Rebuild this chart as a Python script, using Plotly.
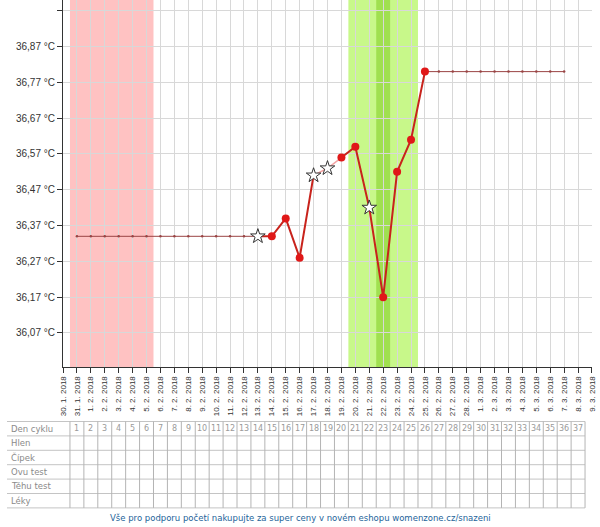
import plotly.graph_objects as go
import pandas as pd

# ---------------- data ----------------
axis_start = "2018-01-30"
axis_end = "2018-03-09"
tick_dates = pd.date_range(axis_start, axis_end, freq="D")
tick_labels = [f"{d.day}. {d.month}. {d.year}" for d in tick_dates]

y_tick_vals = [36.07, 36.17, 36.27, 36.37, 36.47, 36.57, 36.67, 36.77, 36.87, 36.97]
y_tick_text = ["36,07 °C", "36,17 °C", "36,27 °C", "36,37 °C", "36,47 °C",
               "36,57 °C", "36,67 °C", "36,77 °C", "36,87 °C", ""]

meas_dates = ["2018-02-13", "2018-02-14", "2018-02-15", "2018-02-16", "2018-02-17",
              "2018-02-18", "2018-02-19", "2018-02-20", "2018-02-21", "2018-02-22",
              "2018-02-23", "2018-02-24", "2018-02-25"]
meas_temps = [36.34, 36.34, 36.39, 36.28, 36.51, 36.53, 36.56, 36.59, 36.42, 36.17,
              36.52, 36.61, 36.80]
meas_disturbed = [True, False, False, False, True, True, False, False, True, False,
                  False, False, False]

pre_dates = ["2018-01-31", "2018-02-01", "2018-02-02", "2018-02-03", "2018-02-04",
             "2018-02-05", "2018-02-06", "2018-02-07", "2018-02-08", "2018-02-09",
             "2018-02-10", "2018-02-11", "2018-02-12", "2018-02-13"]
pre_temps = [36.34] * len(pre_dates)
post_dates = ["2018-02-25", "2018-02-26", "2018-02-27", "2018-02-28", "2018-03-01",
              "2018-03-02", "2018-03-03", "2018-03-04", "2018-03-05", "2018-03-06",
              "2018-03-07"]
post_temps = [36.80] * len(post_dates)

period_days = ("2018-01-31", "2018-02-05")
fertile_days = ("2018-02-20", "2018-02-24")
ovulation_day = "2018-02-22"

cycle_days = list(range(1, 38))
table_rows = ["Den cyklu", "Hlen", "Čípek", "Ovu test", "Těhu test", "Léky"]
footer_text = "Vše pro podporu početí nakupujte za super ceny v novém eshopu womenzone.cz/snazeni"

# ---------------- helpers ----------------
W, H = 600, 527
ML, MR, MT, MB = 63, 8, 0, 160
PH = H - MT - MB
PW = W - ML - MR
N_DAYS = 38


def half_day(d, sign):
    return (pd.Timestamp(d) + pd.Timedelta(hours=12 * sign)).strftime("%Y-%m-%d %H:%M")


def py(pix):  # pixel y -> paper y
    return (H - MB - pix) / PH


def px(pix):
    return (pix - ML) / PW


fig = go.Figure()

red = "#c8231c"
fig.add_trace(go.Scatter(x=pre_dates, y=pre_temps, mode="lines+markers",
                         line=dict(color="#9a4444", width=1),
                         marker=dict(size=2.5, color="#9a4444"), hoverinfo="skip"))
fig.add_trace(go.Scatter(x=post_dates, y=post_temps, mode="lines+markers",
                         line=dict(color="#9a4444", width=1),
                         marker=dict(size=2.5, color="#9a4444"), hoverinfo="skip"))

# main curve split where segment is lighter
fig.add_trace(go.Scatter(x=meas_dates[0:5], y=meas_temps[0:5], mode="lines",
                         line=dict(color=red, width=2)))
fig.add_trace(go.Scatter(x=meas_dates[4:7], y=meas_temps[4:7], mode="lines",
                         line=dict(color="#f2a4a4", width=1.5)))
fig.add_trace(go.Scatter(x=meas_dates[6:], y=meas_temps[6:], mode="lines",
                         line=dict(color=red, width=2)))

dot_x = [d for d, s in zip(meas_dates, meas_disturbed) if not s]
dot_y = [t for t, s in zip(meas_temps, meas_disturbed) if not s]
star_x = [d for d, s in zip(meas_dates, meas_disturbed) if s]
star_y = [t for t, s in zip(meas_temps, meas_disturbed) if s]
fig.add_trace(go.Scatter(x=dot_x, y=dot_y, mode="markers",
                         marker=dict(size=8, color="#e01818")))
fig.add_trace(go.Scatter(x=star_x, y=star_y, mode="markers",
                         marker=dict(symbol="star", size=11, color="white",
                                     line=dict(color="#333333", width=1))))

shapes = []
shapes.append(dict(type="rect", xref="x", yref="paper", layer="below",
                   x0=half_day(period_days[0], -1), x1=half_day(period_days[1], 1),
                   y0=0, y1=1, fillcolor="#ffc2c2", line=dict(width=0)))
shapes.append(dict(type="rect", xref="x", yref="paper", layer="below",
                   x0=half_day(fertile_days[0], -1), x1=half_day(fertile_days[1], 1),
                   y0=0, y1=1, fillcolor="#c8f88a", line=dict(width=0)))
shapes.append(dict(type="rect", xref="x", yref="paper", layer="below",
                   x0=half_day(ovulation_day, -1), x1=half_day(ovulation_day, 1),
                   y0=0, y1=1, fillcolor="#a0e050", line=dict(width=0)))

# table
row_top = 421.5
row_h = 14.4
n_rows = len(table_rows)
tbl_left = 7
tbl_right = px(ML + PW * 37.5 / N_DAYS)
for r in range(n_rows + 1):
    yy = py(row_top + r * row_h)
    shapes.append(dict(type="line", xref="paper", yref="paper",
                       x0=px(tbl_left), x1=tbl_right, y0=yy, y1=yy,
                       line=dict(color="#c4c4c4", width=1)))
for k in range(len(cycle_days) + 1):
    xx = px(ML + PW * (k + 0.5) / N_DAYS)
    shapes.append(dict(type="line", xref="paper", yref="paper",
                       x0=xx, x1=xx, y0=py(row_top), y1=py(row_top + n_rows * row_h),
                       line=dict(color="#b4b4b4", width=1)))

annotations = []
for r, name in enumerate(table_rows):
    annotations.append(dict(xref="paper", yref="paper", x=px(9),
                            y=py(row_top + (r + 0.5) * row_h), text=name,
                            showarrow=False, xanchor="left", yanchor="middle",
                            font=dict(family="DejaVu Sans", size=8.5, color="#8a8a8a")))
for k, day in enumerate(cycle_days):
    annotations.append(dict(xref="paper", yref="paper", x=px(ML + PW * (k + 1) / N_DAYS),
                            y=py(row_top + 0.5 * row_h), text=str(day),
                            showarrow=False, xanchor="center", yanchor="middle",
                            font=dict(family="DejaVu Sans", size=8, color="#9a9a9a")))
annotations.append(dict(xref="paper", yref="paper", x=px(300), y=py(518),
                        text=footer_text, showarrow=False, xanchor="center",
                        yanchor="middle",
                        font=dict(family="DejaVu Sans", size=8.5, color="#24649a")))

fig.update_layout(
    width=W, height=H,
    margin=dict(l=ML, r=MR, t=MT, b=MB, autoexpand=False),
    paper_bgcolor="white", plot_bgcolor="white",
    showlegend=False,
    shapes=shapes, annotations=annotations,
    font=dict(family="Liberation Sans, Arial", color="#333333"),
)
fig.update_xaxes(
    type="date", range=[axis_start, half_day(axis_end, 0.002)],
    tickvals=list(tick_dates), ticktext=tick_labels, tickangle=-90,
    tickfont=dict(size=8, color="#333333"), automargin=False,
    showgrid=True, gridcolor="#d8d8d8", gridwidth=1,
    showline=True, linecolor="#333333", linewidth=1,
    ticks="outside", ticklen=5, tickcolor="#333333", zeroline=False,
)
fig.update_yaxes(
    range=[35.975, 37.0], automargin=False,
    tickvals=y_tick_vals, ticktext=y_tick_text,
    tickfont=dict(size=10, color="#333333"),
    showgrid=True, gridcolor="#d8d8d8", gridwidth=1,
    showline=True, linecolor="#333333", linewidth=1,
    ticks="outside", ticklen=5, tickcolor="#333333", zeroline=False,
)

fig.write_html("out.html", config={"displayModeBar": False},
               post_script="document.body.style.margin='0px';document.body.style.overflow='hidden';")
